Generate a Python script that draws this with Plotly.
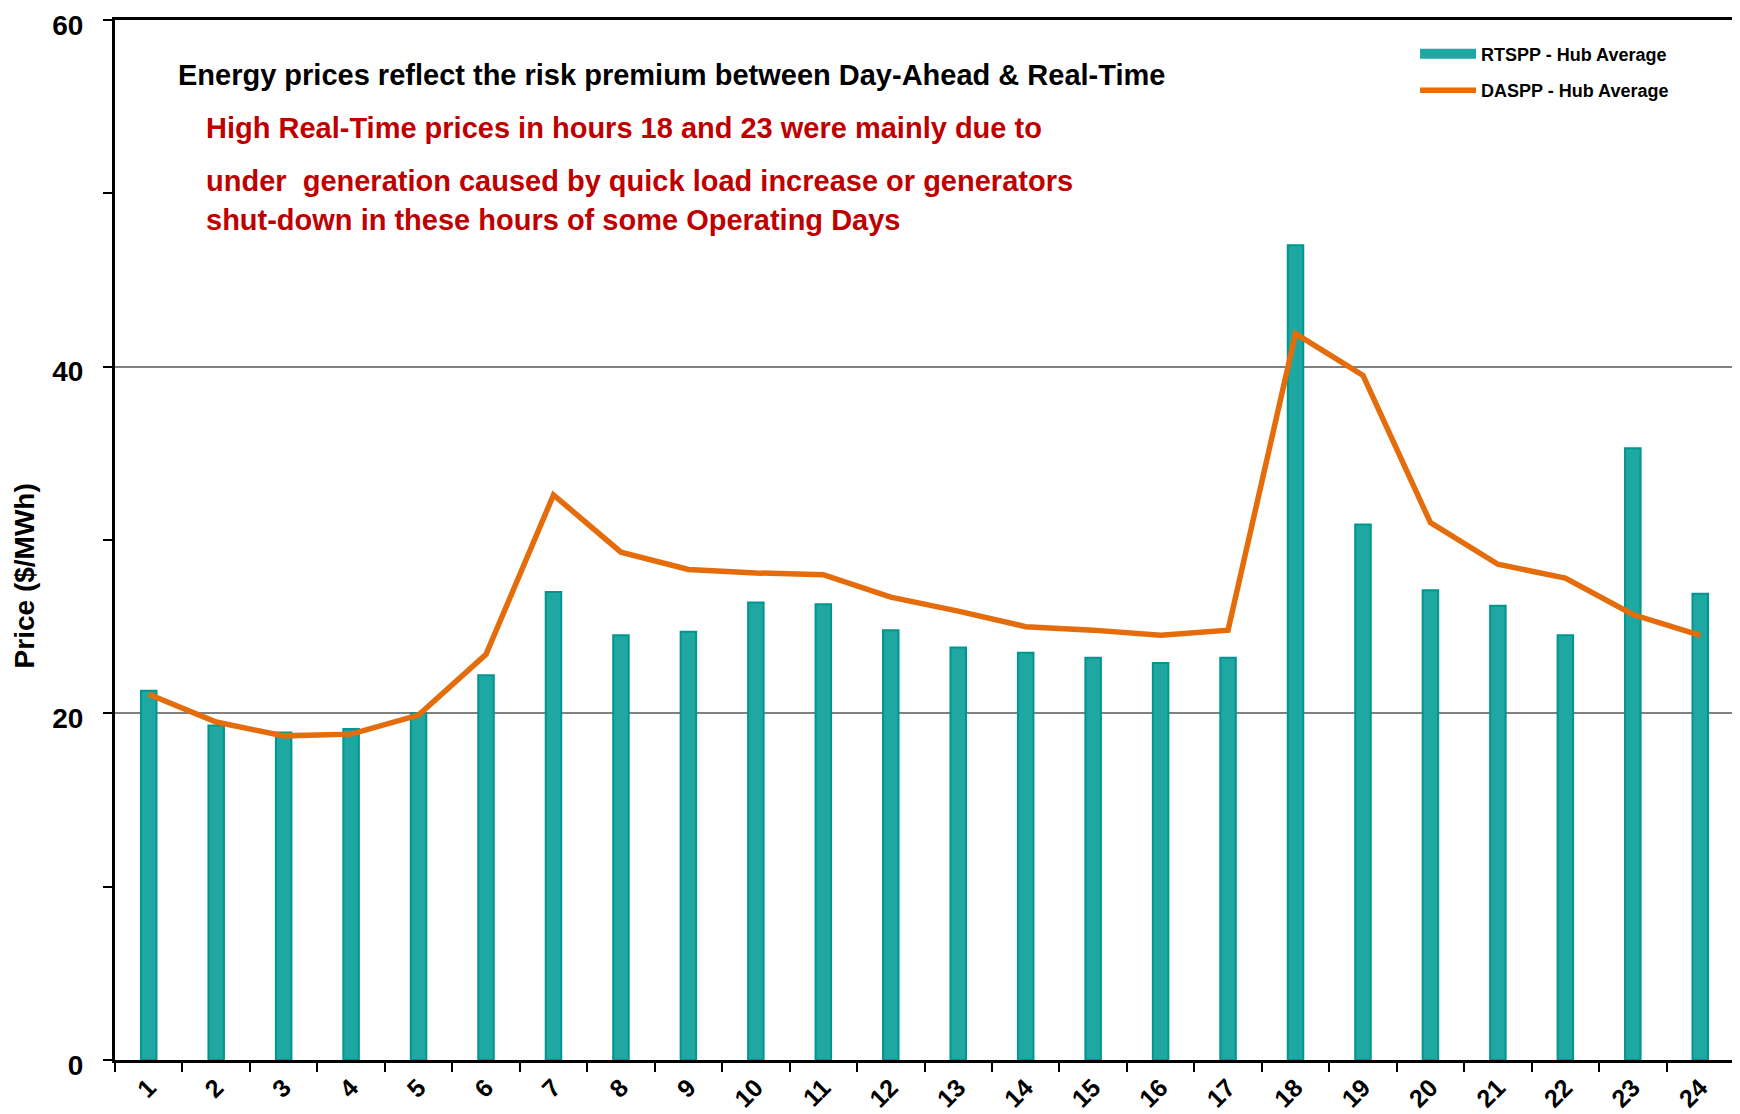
import plotly.graph_objects as go

hours = [str(h) for h in range(1, 25)]
rtspp = [21.3, 19.3, 18.9, 19.1, 20.0, 22.2, 27.0, 24.5, 24.7, 26.4, 26.3, 24.8,
         23.8, 23.5, 23.2, 22.9, 23.2, 47.0, 30.9, 27.1, 26.2, 24.5, 35.3, 26.9]
daspp = [21.1, 19.5, 18.7, 18.8, 19.9, 23.4, 32.6, 29.3, 28.3, 28.1, 28.0, 26.7,
         25.9, 25.0, 24.8, 24.5, 24.8, 41.9, 39.5, 31.0, 28.6, 27.8, 25.7, 24.5]

teal = '#1FA7A2'
teal_dark = '#00968F'
orange = '#E46C0A'
red = '#C00000'
font = 'Liberation Sans, Arial, sans-serif'

fig = go.Figure()
fig.add_trace(go.Bar(
    x=hours, y=rtspp, name='RTSPP - Hub Average',
    width=0.23,
    marker=dict(color=teal, line=dict(color=teal_dark, width=2)),
    showlegend=False,
))
# legend entry drawn as a thick teal stroke, like the original
fig.add_trace(go.Scatter(
    x=[None], y=[None], mode='lines', name='RTSPP - Hub Average',
    line=dict(color=teal, width=10), legendgroup='rt',
))
fig.add_trace(go.Scatter(
    x=hours, y=daspp, mode='lines', name='DASPP - Hub Average',
    line=dict(color=orange, width=5.5), legendgroup='da',
))

fig.add_annotation(
    x=0.0375, y=0.947, xref='paper', yref='paper', xanchor='left', yanchor='middle',
    text='<b>Energy prices reflect the risk premium between Day-Ahead & Real-Time</b>',
    showarrow=False, font=dict(size=29, color='black', family=font),
)
red_lines = [
    ('High Real-Time prices in hours 18 and 23 were mainly due to', 0.896),
    ('under  generation caused by quick load increase or generators', 0.845),
    ('shut-down in these hours of some Operating Days', 0.808),
]
for txt, yy in red_lines:
    fig.add_annotation(
        x=0.055, y=yy, xref='paper', yref='paper', xanchor='left', yanchor='middle',
        text='<b>' + txt + '</b>', showarrow=False,
        font=dict(size=29, color=red, family=font),
    )

# y axis title, sitting a little below the middle like the original
fig.add_annotation(
    x=0, y=0.465, xref='paper', yref='paper', xanchor='center', yanchor='middle',
    xshift=-91, textangle=-90, showarrow=False,
    text='<b>Price ($/MWh)</b>', font=dict(size=28, color='black', family=font),
)

# page body adds an 8px margin, so the figure is sized to fit the window
fig.update_layout(
    width=1732, height=1106,
    margin=dict(l=107, r=6, t=12, b=54),
    plot_bgcolor='white', paper_bgcolor='white',
    font=dict(family=font, color='black'),
    bargap=0.77,
    legend=dict(
        x=0.803, y=0.985, xanchor='left', yanchor='top',
        font=dict(size=18, family=font, color='black', weight='bold'),
        bgcolor='rgba(0,0,0,0)', itemwidth=56, tracegroupgap=10,
    ),
)
fig.update_xaxes(
    type='category', showline=True, linecolor='black', linewidth=3, mirror=True,
    ticks='outside', ticklen=9, tickwidth=2, tickcolor='black', tickson='boundaries',
    tickangle=-45, tickfont=dict(size=25, family=font, weight='bold'),
    showgrid=False, automargin=False,
)
fig.update_yaxes(
    range=[0, 60], dtick=20, showline=True, linecolor='black', linewidth=3, mirror=True,
    ticks='outside', ticklen=9, tickwidth=2, tickcolor='black',
    showgrid=True, gridcolor='#808080', gridwidth=2,
    minor=dict(dtick=10, ticks='outside', ticklen=9, tickwidth=2, tickcolor='black', showgrid=False),
    tickfont=dict(size=28, family=font, weight='bold'),
    ticklabelstandoff=14, ticklabeloverflow='allow', ticklabelshift=5,
    zeroline=False, automargin=False,
)

fig.write_html('out.html')
